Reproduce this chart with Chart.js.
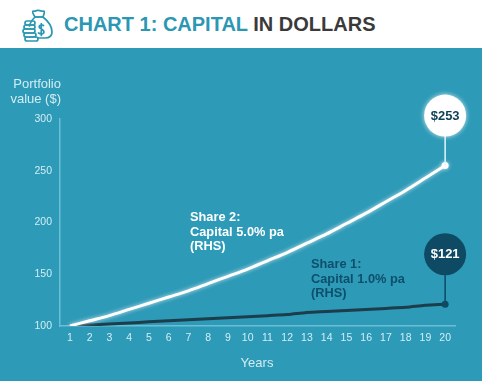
<!DOCTYPE html>
<html>
<head>
<meta charset="utf-8">
<script src="https://cdn.jsdelivr.net/npm/chart.js@4/dist/chart.umd.js"></script>
<style>
  html, body { margin: 0; padding: 0; background: #fff; }
  body { position: relative; width: 482px; height: 381px; overflow: hidden; font-family: "Liberation Sans", Arial, sans-serif; }
  #icon { position: absolute; left: 22px; top: 9px; }
  #title { position: absolute; left: 64px; top: 11px; font-size: 20px; font-weight: bold; line-height: 26px; color: #3a3a3a; white-space: nowrap; }
  #title span { color: #2b97b3; }
  #panel { position: absolute; left: 0; top: 48px; width: 482px; height: 333px; background: #2d9ab7; }
  #y-title { position: absolute; left: 0; top: 76px; width: 61px; text-align: right; font-size: 13px; line-height: 15px; color: #d3edf4; }
  .note { position: absolute; font-size: 12.8px; font-weight: bold; line-height: 14.5px; white-space: nowrap; }
  #note-2 { left: 190px; top: 210px; color: #fff; }
  #note-1 { left: 311px; top: 257px; color: #0e4f6c; }
  #wrap { position: absolute; left: 0; top: 48px; width: 482px; height: 333px; }
</style>
</head>
<body>
<svg id="icon" width="32" height="34" viewBox="0 0 32 34" fill="none" stroke="#2b97b3" stroke-width="1.7" stroke-linejoin="round" stroke-linecap="round">
  <path d="M13 8 C10 11 8 14 7.5 17 M21 8 C26 12 30 18 30 23 C30 27 27 29 23 29 L16 29"/>
  <path d="M13 8 C11 5 10 3 11 2 C13 3 14 1 16 1.5 C18 1 20 3 22 2 C23 3 22 5 21 8 Z"/>
  <path d="M13 8 L21 8"/>
  <path d="M21.5 16.5 C19 15 16.5 16.5 17.5 18.5 C18.5 20.5 22 20.5 22 23 C22 25 19 25.5 16.5 24 M19.3 14.5 L19.3 26.5"/>
  <rect x="3" y="12" width="10" height="4" rx="2"/>
  <rect x="2" y="16" width="11" height="4" rx="2"/>
  <rect x="1" y="20" width="12" height="4" rx="2"/>
  <rect x="2" y="24" width="12" height="4" rx="2"/>
  <rect x="3" y="28" width="13" height="4" rx="2"/>
</svg>
<div id="title"><span>CHART 1: CAPITAL</span> IN DOLLARS</div>
<div id="panel"></div>
<div id="wrap"><canvas id="chart" width="482" height="333"></canvas></div>
<div id="y-title">Portfolio<br>value ($)</div>
<div class="note" id="note-2">Share 2:<br>Capital 5.0% pa<br>(RHS)</div>
<div class="note" id="note-1">Share 1:<br>Capital 1.0% pa<br>(RHS)</div>
<script>
const years = ["1","2","3","4","5","6","7","8","9","10","11","12","13","14","15","16","17","18","19","20"];
const share2 = [100,105,110,116,122,128,134,141,148,155,163,171,180,189,199,209,220,231,243,255];
const share1 = [100,101,102,103,104,105,106,107,108,109,110,111,113,114,115,116,117,118,120,121];
const endLabels = ["$253", "$121"];
const yTicks = [100,150,200,250,300];

const tickColor = "#d3edf4";

// glow behind the white line, and the bubbles at the end of each line
const linePlugin = {
  id: "linePlugin",
  beforeDatasetDraw(chart, args) {
    const ctx = chart.ctx;
    ctx.save();
    if (args.index === 0) {
      ctx.shadowColor = "rgba(255,255,255,0.75)";
      ctx.shadowBlur = 4;
    }
  },
  afterDatasetDraw(chart) {
    chart.ctx.restore();
  },
  afterDatasetsDraw(chart) {
    const ctx = chart.ctx;
    const styles = [
      { fill: "#ffffff", stem: "#e6f6fa", text: "#0e3f55", glow: "rgba(255,255,255,0.8)" },
      { fill: "#0e4a63", stem: "#0e4a63", text: "#ffffff", glow: null }
    ];
    chart.data.datasets.forEach((ds, i) => {
      const pt = chart.getDatasetMeta(i).data[ds.data.length - 1];
      const s = styles[i];
      const cy = pt.y - 50;
      ctx.save();
      ctx.strokeStyle = s.stem;
      ctx.lineWidth = 1.5;
      ctx.beginPath();
      ctx.moveTo(pt.x, pt.y);
      ctx.lineTo(pt.x, cy);
      ctx.stroke();
      if (s.glow) {
        ctx.shadowColor = s.glow;
        ctx.shadowBlur = 5;
      }
      ctx.fillStyle = s.fill;
      ctx.beginPath();
      ctx.arc(pt.x, cy, 21, 0, Math.PI * 2);
      ctx.fill();
      ctx.shadowBlur = 0;
      ctx.fillStyle = s.text;
      ctx.font = "bold 13px 'Liberation Sans'";
      ctx.textAlign = "center";
      ctx.textBaseline = "middle";
      ctx.fillText(endLabels[i], pt.x, cy + 0.5);
      ctx.restore();
    });
  }
};

new Chart(document.getElementById("chart"), {
  type: "line",
  data: {
    labels: years,
    datasets: [
      {
        label: "Share 2",
        data: share2,
        borderColor: "#ffffff",
        borderWidth: 3,
        tension: 0.3,
        pointRadius: ctx => ctx.dataIndex === share2.length - 1 ? 3.5 : 0,
        pointBackgroundColor: "#ffffff",
        pointBorderWidth: 0
      },
      {
        label: "Share 1",
        data: share1,
        borderColor: "#1c3d4c",
        borderWidth: 3,
        tension: 0.3,
        pointRadius: ctx => ctx.dataIndex === share1.length - 1 ? 3.5 : 0,
        pointBackgroundColor: "#0e4a63",
        pointBorderWidth: 0
      }
    ]
  },
  options: {
    responsive: false,
    animation: false,
    layout: { padding: { top: 71, right: 27, bottom: 0, left: 0 } },
    plugins: { legend: { display: false }, tooltip: { enabled: false } },
    scales: {
      x: {
        offset: true,
        grid: { display: false, drawTicks: false },
        border: { color: "#6dbdd3", width: 1.5 },
        ticks: { color: tickColor, font: { size: 10.5, family: "Liberation Sans" }, padding: 6, maxRotation: 0, autoSkip: false },
        title: { display: false },
        afterFit: scale => { scale.height = 55; }
      },
      y: {
        min: 100,
        max: 300,
        afterBuildTicks: scale => { scale.ticks = yTicks.map(v => ({ value: v })); },
        grid: { display: false, drawTicks: false },
        border: { color: "#6dbdd3", width: 1.5 },
        ticks: { color: tickColor, font: { size: 10.5, family: "Liberation Sans" }, padding: 8 },
        afterFit: scale => { scale.width = 60; }
      }
    }
  },
  plugins: [linePlugin]
});
</script>
<div style="position:absolute;left:217px;top:355px;width:80px;text-align:center;font-size:13px;line-height:15px;color:#d3edf4;">Years</div>
</body>
</html>
